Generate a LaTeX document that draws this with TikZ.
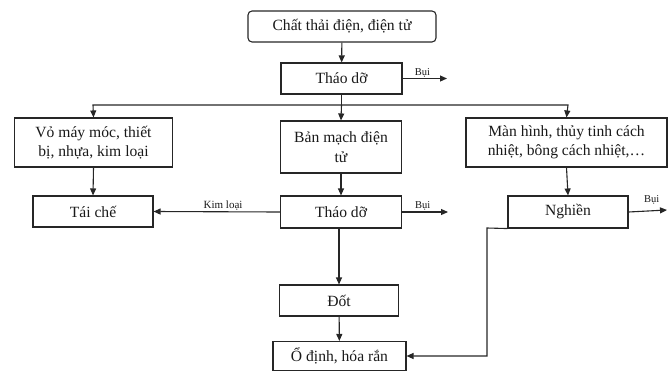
\documentclass[tikz,border=0pt]{standalone}
\usepackage{fontspec}
\setmainfont{Liberation Serif}
\usetikzlibrary{arrows.meta}
\begin{document}
\begin{tikzpicture}[x=1pt,y=-1pt,
  box/.style={draw=black!85, line width=1.1pt, inner sep=1pt, align=center,
    font=\fontsize{15.6}{19.5}\selectfont, text=black!90},
  conn/.style={draw=black!85, line width=1.1pt},
  arr/.style={conn, -{Triangle[length=7pt,width=6pt]}},
  small/.style={font=\fontsize{10.5}{12}\selectfont, text=black!90, inner sep=1pt}]
\useasboundingbox (0,0) rectangle (671,372);
\node[box, rounded corners=4pt, minimum width=188pt, minimum height=31pt] (top) at (342,26.5) {Chất thải điện, điện tử};
\node[box, minimum width=121pt, minimum height=31pt] (t1) at (341.5,78.5) {Tháo dỡ};
\node[box, minimum width=158pt, minimum height=49pt] (left) at (93.5,142.5) {Vỏ máy móc, thiết\\bị, nhựa, kim loại};
\node[box, minimum width=120pt, minimum height=31pt] (tc) at (93,211.5) {Tái chế};
\node[box, minimum width=121pt, minimum height=52pt] (bm) at (341,147) {Bản mạch điện\\tử};
\node[box, minimum width=121pt, minimum height=32pt] (t2) at (341,212) {Tháo dỡ};
\node[box, minimum width=201pt, minimum height=49pt] (right) at (566.5,142.5) {Màn hình, thủy tinh cách\\nhiệt, bông cách nhiệt,…};
\node[box, minimum width=120pt, minimum height=32pt] (ng) at (568,212) {Nghiền};
\node[box, minimum width=119pt, minimum height=31pt] (dot) at (339,300.5) {Đốt};
\node[box, minimum width=133pt, minimum height=29pt] (od) at (339.5,356) {Ổ định, hóa rắn};
\coordinate (b1) at (447,78.5);
\coordinate (b2) at (448,212);
\coordinate (b3) at (667,210);
\coordinate (j) at (341.5,105);
\coordinate (jl) at (93,105);
\coordinate (jr) at (568,105);
\coordinate (n1) at (487,228);
\coordinate (n2) at (487,356);
% connectors
\draw[arr] (top) -- (t1);
\draw[arr] (t1.east) -- (b1) node[small, pos=0.45, above] {Bụi};
\draw[conn] (t1.south) -- (j);
\draw[arr] (j) -- (bm.north);
\draw[arr] (j) -- (jl) -- (left.north);
\draw[arr] (j) -- (jr) -- (right.north);
\draw[arr] (left.south) -- (tc.north);
\draw[arr] (bm) -- (t2);
\draw[arr] (right.south) -- (ng.north);
\draw[arr] (t2.west) -- (tc.east) node[small, font=\fontsize{11}{12}\selectfont, pos=0.45, above] {Kim loại};
\draw[arr] (t2.east) -- (b2) node[small, pos=0.45, above] {Bụi};
\draw[arr] (ng.east) -- (b3) node[small, pos=0.6, above=5pt] {Bụi};
\draw[arr] ([xshift=-2pt]t2.south) -- (dot.north);
\draw[arr] (dot) -- (od);
\draw[arr] (ng.south west) -- (n1) -- (n2) -- (od.east);
\end{tikzpicture}
\end{document}
